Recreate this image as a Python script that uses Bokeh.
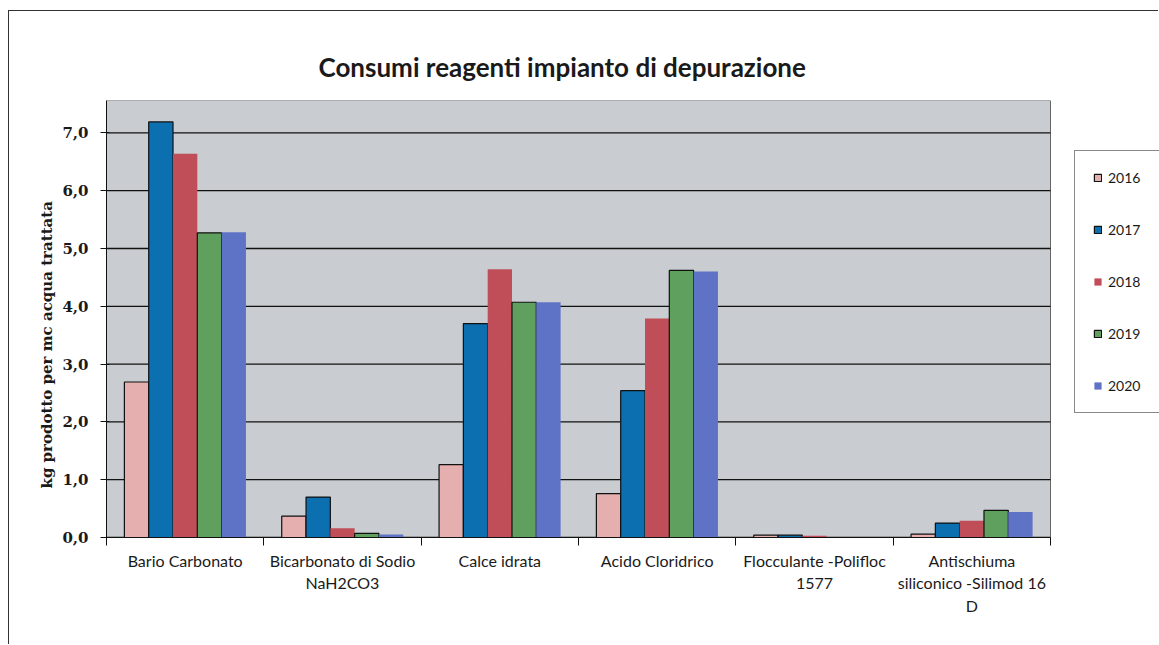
from bokeh.plotting import figure
from bokeh.models import (ColumnDataSource, Range1d, FixedTicker, CustomJSTickFormatter,
                          Legend, LegendItem, Title)
from bokeh.transform import dodge
from bokeh.embed import file_html
from bokeh.resources import INLINE

categories = ["Bario Carbonato", "Bicarbonato di Sodio\nNaH2CO3", "Calce idrata",
              "Acido Cloridrico", "Flocculante -Polifloc\n1577",
              "Antischiuma\nsiliconico -Silimod 16\nD"]
years = ["2016", "2017", "2018", "2019", "2020"]
v2016 = [2.69, 0.37, 1.26, 0.76, 0.04, 0.06]
v2017 = [7.19, 0.70, 3.70, 2.54, 0.04, 0.25]
v2018 = [6.64, 0.16, 4.64, 3.79, 0.03, 0.29]
v2019 = [5.27, 0.07, 4.07, 4.62, 0.00, 0.47]
v2020 = [5.28, 0.05, 4.07, 4.60, 0.00, 0.44]
series = [v2016, v2017, v2018, v2019, v2020]
y_ticks = [0, 1, 2, 3, 4, 5, 6, 7]
y_max = 7.56

colors = ["#E6AFAF", "#0B6FB0", "#BF4E58", "#60A05F", "#5E72C6"]
outlines = ["#111111", "#111111", None, "#111111", None]

n = len(categories)
centers = [i + 0.5 for i in range(n)]
data = {"xc": centers}
for y, vals in zip(years, series):
    data["y" + y] = vals
source = ColumnDataSource(data)

# frame extends to the right edge so the legend (outside the plot area) is not clipped
x_end = n * 1053 / 944
p = figure(width=1150, height=634, output_backend="svg", toolbar_location=None,
           x_range=Range1d(0, x_end), y_range=Range1d(0, y_max),
           min_border_left=97, min_border_top=89, min_border_right=0, min_border_bottom=108)
p.margin = (10, 0, 0, 8)
p.styles = {"border-left": "1px solid #333", "border-top": "1px solid #333"}
p.background_fill_color = "white"
p.border_fill_color = "white"
p.outline_line_color = None

title = Title(text="Consumi reagenti impianto di depurazione", align="left", offset=212,
              standoff=35, text_font="Lato", text_font_size="26px", text_font_style="bold",
              text_color="#1a1a1a")
p.add_layout(title, "above")

ytitle = Title(text="kg prodotto per mc acqua trattata", align="left", offset=49,
               standoff=8, text_font="DejaVu Serif", text_font_size="15px",
               text_font_style="bold", text_color="#1a1a1a")
p.add_layout(ytitle, "left")

# plot area (gray) with its border
p.quad(left=[0], right=[n], bottom=[0], top=[y_max], fill_color="#C9CDD1",
       line_color="#666666", line_width=1)

# horizontal gridlines across the plot area
p.segment(x0=[0] * len(y_ticks), x1=[n] * len(y_ticks), y0=y_ticks, y1=y_ticks,
          line_color="#111111", line_width=1.3)

bw = 0.1545
renderers = []
for j, y in enumerate(years):
    r = p.vbar(x=dodge("xc", (j - 2) * bw, range=p.x_range), top="y" + y, width=bw,
               source=source, fill_color=colors[j],
               line_color=outlines[j], line_width=1.2)
    renderers.append(r)

p.xgrid.grid_line_color = None
p.ygrid.grid_line_color = None

# y axis
p.yaxis.ticker = FixedTicker(ticks=y_ticks)
p.yaxis.formatter = CustomJSTickFormatter(code="return tick.toFixed(1).replace('.', ',');")
p.yaxis.major_label_text_font = "DejaVu Serif"
p.yaxis.major_label_text_font_style = "bold"
p.yaxis.major_label_text_font_size = "15px"
p.yaxis.major_label_text_color = "#1a1a1a"
p.yaxis.major_tick_in = 3
p.yaxis.major_tick_out = 6
p.yaxis.major_label_standoff = 12
p.yaxis.minor_tick_line_color = None
p.yaxis.axis_line_color = "#111111"
p.yaxis.major_tick_line_color = "#111111"

# x axis
p.xaxis.bounds = (0, n)
p.xaxis.ticker = FixedTicker(ticks=centers, minor_ticks=list(range(n + 1)))
p.xaxis.major_label_overrides = {c: lab for c, lab in zip(centers, categories)}
p.xaxis.major_tick_line_color = None
p.xaxis.major_tick_in = 0
p.xaxis.major_tick_out = 0
p.xaxis.minor_tick_line_color = "#111111"
p.xaxis.minor_tick_in = 0
p.xaxis.minor_tick_out = 8
p.xaxis.axis_line_color = "#111111"
p.xaxis.major_label_text_font = "Lato"
p.xaxis.major_label_text_font_size = "16px"
p.xaxis.major_label_text_color = "#1a1a1a"
p.xaxis.major_label_standoff = 5

legend = Legend(items=[LegendItem(label=y, renderers=[r]) for y, r in zip(years, renderers)],
                location=(968, 124), orientation="vertical",
                glyph_width=9, glyph_height=9, label_height=16, label_width=60,
                spacing=35, padding=18, margin=0, label_standoff=6,
                border_line_color="#111111", border_line_width=1,
                background_fill_color="white", background_fill_alpha=1,
                label_text_font="Lato", label_text_font_size="14px",
                label_text_color="#1a1a1a")
p.add_layout(legend, "center")

open("out.html", "w").write(file_html(p, INLINE))
